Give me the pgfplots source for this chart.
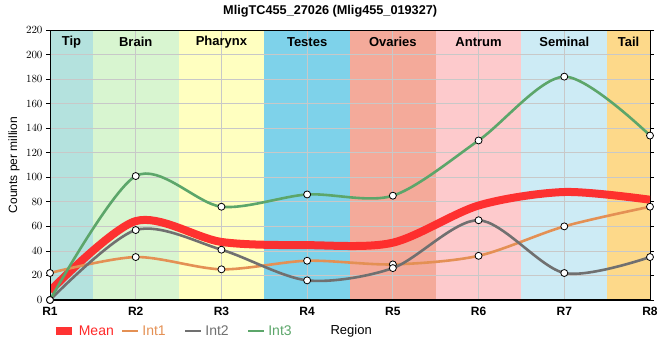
\documentclass[border=0pt]{standalone}
\usepackage{fontspec}
\setmainfont{Liberation Sans}
\usepackage{pgfplots}
\pgfplotsset{compat=1.18}
\definecolor{cTip}{RGB}{180,226,222}
\definecolor{cBrain}{RGB}{216,245,208}
\definecolor{cPhar}{RGB}{255,255,192}
\definecolor{cTest}{RGB}{126,210,234}
\definecolor{cOva}{RGB}{244,170,154}
\definecolor{cAnt}{RGB}{253,202,204}
\definecolor{cSem}{RGB}{205,235,245}
\definecolor{cTail}{RGB}{253,217,138}
\definecolor{cMean}{RGB}{255,40,40}
\definecolor{cInt1}{RGB}{228,144,84}
\definecolor{cInt2}{RGB}{112,112,112}
\definecolor{cInt3}{RGB}{92,166,106}
\definecolor{cGrid}{RGB}{200,200,200}
\begin{document}
\begin{tikzpicture}
\begin{axis}[
  set layers,
  scale only axis,
  width=600pt, height=270pt,
  xmin=0, xmax=7, ymin=0, ymax=220,
  enlargelimits=false,
  xtick={0,...,7},
  xticklabels={R1,R2,R3,R4,R5,R6,R7,R8},
  ytick={0,20,...,220},
  grid=major,
  grid style={cGrid, line width=0.8pt},
  axis line style={black, line width=0.8pt},
  tick align=outside,
  major tick length=4pt,
  tick style={black, line width=0.8pt},
  xtick style={draw=none},
  ticklabel style={font=\fontsize{11}{13}\selectfont},
  xticklabel style={font=\bfseries\fontsize{12}{14}\selectfont},
  title={\bfseries MligTC455\_27026 (Mlig455\_019327)},
  title style={at={(axis description cs:0.467,1)}, anchor=base, yshift=10pt, font=\fontsize{12.7}{14}\selectfont},
  ylabel={Counts per million},
  ylabel style={at={(axis description cs:-0.06,0.5)}, anchor=center, font=\fontsize{12}{14}\selectfont},
  xlabel={Region},
  xlabel style={at={(axis description cs:0.502,-0.115)}, anchor=center, font=\fontsize{13}{15}\selectfont},
  legend columns=-1,
  legend style={at={(axis description cs:0.003,-0.115)}, anchor=west, draw=none, fill=none,
    inner sep=0pt, outer sep=0pt,
    font=\fontsize{14}{16}\selectfont,
    nodes={inner sep=0pt, anchor=west},
    /tikz/column sep=3pt},
  legend image code/.code={\draw[#1] (0pt,0pt) -- (16pt,0pt);},
]
% background bands
\addplot[on layer=axis background, forget plot, fill=cTip, draw=none] coordinates {(0,220) (0.5,220)} \closedcycle;
\addplot[on layer=axis background, forget plot, fill=cBrain, draw=none] coordinates {(0.5,220) (1.5,220)} \closedcycle;
\addplot[on layer=axis background, forget plot, fill=cPhar, draw=none] coordinates {(1.5,220) (2.5,220)} \closedcycle;
\addplot[on layer=axis background, forget plot, fill=cTest, draw=none] coordinates {(2.5,220) (3.5,220)} \closedcycle;
\addplot[on layer=axis background, forget plot, fill=cOva, draw=none] coordinates {(3.5,220) (4.5,220)} \closedcycle;
\addplot[on layer=axis background, forget plot, fill=cAnt, draw=none] coordinates {(4.5,220) (5.5,220)} \closedcycle;
\addplot[on layer=axis background, forget plot, fill=cSem, draw=none] coordinates {(5.5,220) (6.5,220)} \closedcycle;
\addplot[on layer=axis background, forget plot, fill=cTail, draw=none] coordinates {(6.5,220) (7,220)} \closedcycle;
% band labels
\begin{scope}[every node/.style={font=\bfseries\fontsize{13}{15}\selectfont, anchor=center}]
\node at (axis cs:0.25,210) {Tip};
\node at (axis cs:1,210) {Brain};
\node at (axis cs:2,210) {Pharynx};
\node at (axis cs:3,210) {Testes};
\node at (axis cs:4,210) {Ovaries};
\node at (axis cs:5,210) {Antrum};
\node at (axis cs:6,210) {Seminal};
\node at (axis cs:6.75,210) {Tail};
\end{scope}
% series
\addplot[cMean, line width=8pt, smooth, tension=0.5, opacity=0.95] coordinates {
(0,7.3) (1,64.3) (2,47.3) (3,44.7) (4,46.7) (5,77) (6,88) (7,81.7)};
\addlegendentry{\textcolor{cMean}{Mean}\hspace*{4pt}}
\addplot[cInt1, line width=2.6pt, smooth, tension=0.5, mark=*, mark size=3.5pt,
  mark options={fill=white, draw=black, line width=0.8pt}] coordinates {
(0,22) (1,35) (2,25) (3,32) (4,29) (5,36) (6,60) (7,76)};
\addlegendentry{\textcolor{cInt1}{Int1}\hspace*{15pt}}
\addplot[cInt2, line width=2.6pt, smooth, tension=0.5, mark=*, mark size=3.5pt,
  mark options={fill=white, draw=black, line width=0.8pt}] coordinates {
(0,0) (1,57) (2,41) (3,16) (4,26) (5,65) (6,22) (7,35)};
\addlegendentry{\textcolor{cInt2}{Int2}\hspace*{15pt}}
\addplot[cInt3, line width=2.6pt, smooth, tension=0.5, mark=*, mark size=3.5pt,
  mark options={fill=white, draw=black, line width=0.8pt}] coordinates {
(0,0) (1,101) (2,76) (3,86) (4,85) (5,130) (6,182) (7,134)};
\addlegendentry{\textcolor{cInt3}{Int3}}
\draw[black, line width=2pt] (rel axis cs:0,0) -- (rel axis cs:0,1);
\draw[black, line width=2pt] (rel axis cs:0,0) -- (rel axis cs:1,0);
\end{axis}
\pgfresetboundingbox
\path[use as bounding box] (-50pt,-60pt) rectangle (610pt,300pt);
\end{tikzpicture}
\end{document}
